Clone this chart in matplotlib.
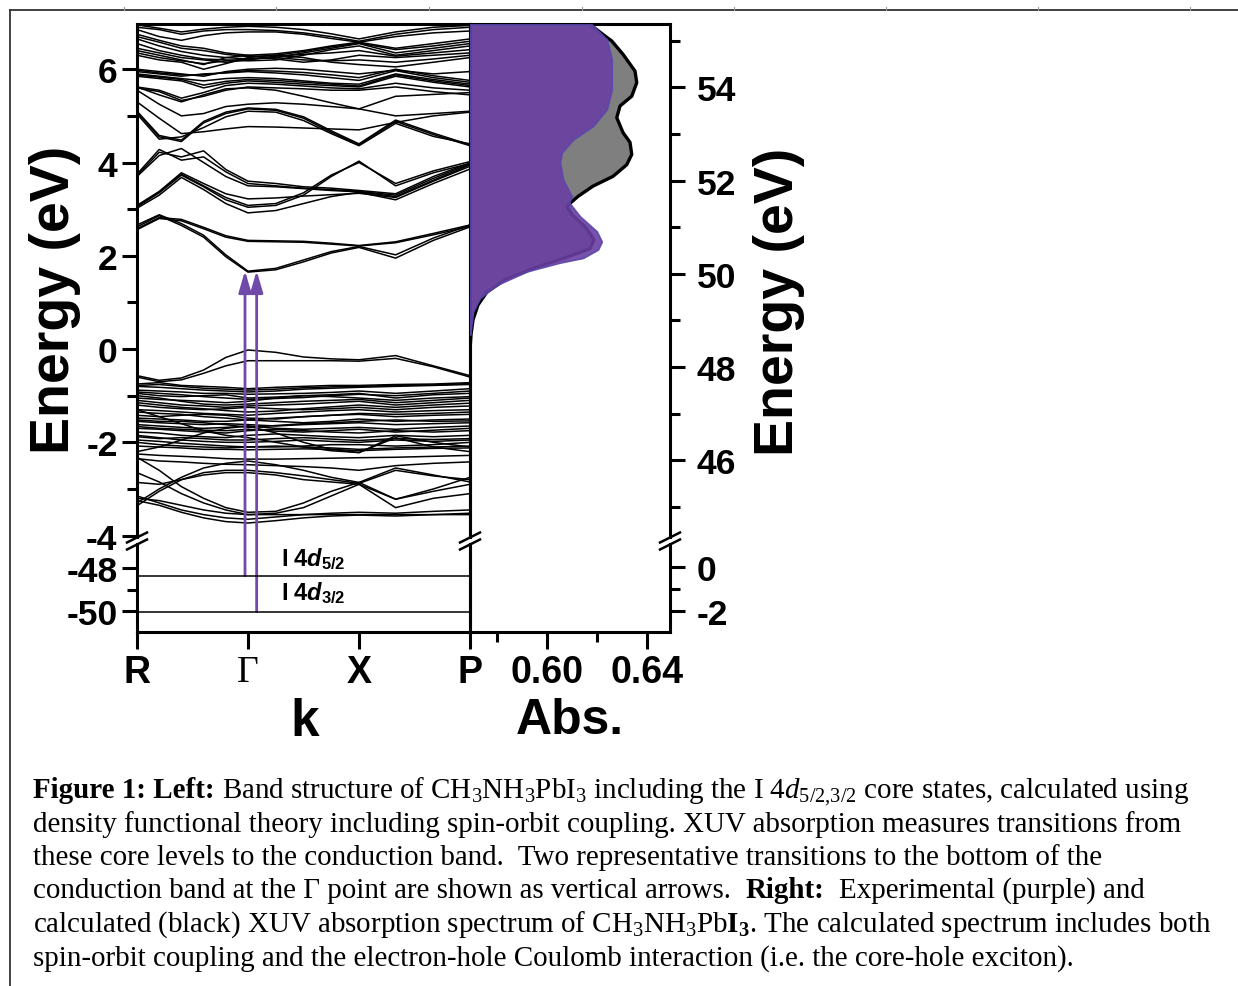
import matplotlib
matplotlib.use("Agg")
import matplotlib.pyplot as plt
from matplotlib.lines import Line2D

plt.rcParams['font.family'] = ['Liberation Sans', 'DejaVu Sans']
plt.rcParams['font.weight'] = 'bold'
plt.rcParams['axes.unicode_minus'] = False
plt.rcParams['mathtext.fontset'] = 'custom'
plt.rcParams['mathtext.rm'] = 'Liberation Serif:style=normal:weight=normal'
plt.rcParams['mathtext.it'] = 'Liberation Serif:style=italic:weight=normal'
plt.rcParams['mathtext.bf'] = 'Liberation Serif:style=normal:weight=bold'
plt.rcParams['mathtext.sf'] = 'Liberation Sans:style=normal:weight=bold'
plt.rcParams['mathtext.bfit'] = 'Liberation Sans:style=italic:weight=bold'
plt.rcParams['mathtext.default'] = 'rm'

# ---------------- band structure data ----------------
k_nodes = [0, 0.2, 0.4, 0.6, 0.8, 1.0, 1.25, 1.5, 1.75, 2.0, 2.33, 2.67, 3.0]
k_ticks = [0, 1, 2, 3]
k_labels = ['R', 'Γ', 'X', 'P']

conduction_bands = [
    [2.62, 2.86, 2.65, 2.40, 1.98, 1.65, 1.70, 1.87, 2.06, 2.18, 1.95, 2.33, 2.62],
    [2.66, 2.88, 2.69, 2.44, 2.02, 1.67, 1.73, 1.91, 2.09, 2.20, 2.02, 2.38, 2.66],
    [2.56, 2.80, 2.75, 2.58, 2.40, 2.31, 2.30, 2.29, 2.25, 2.21, 2.28, 2.45, 2.63],
    [2.58, 2.82, 2.78, 2.61, 2.43, 2.33, 2.32, 2.31, 2.27, 2.22, 2.30, 2.48, 2.66],
    [3.02, 3.30, 3.68, 3.42, 3.12, 2.92, 2.97, 3.12, 3.27, 3.36, 3.20, 3.55, 3.86],
    [3.05, 3.35, 3.73, 3.48, 3.20, 3.04, 3.08, 3.30, 3.70, 4.03, 3.50, 3.78, 3.98],
    [3.08, 3.38, 3.78, 3.55, 3.33, 3.22, 3.24, 3.28, 3.31, 3.34, 3.25, 3.60, 3.92],
    [3.06, 3.36, 3.75, 3.50, 3.25, 3.08, 3.12, 3.35, 3.73, 4.00, 3.55, 3.82, 4.02],
    [3.70, 4.15, 4.30, 4.00, 3.70, 3.50, 3.48, 3.44, 3.40, 3.37, 3.27, 3.62, 3.95],
    [3.75, 4.28, 4.05, 4.12, 3.80, 3.55, 3.50, 3.45, 3.42, 3.38, 3.30, 3.66, 3.97],
    [3.72, 4.22, 4.12, 4.25, 3.85, 3.60, 3.55, 3.48, 3.45, 3.40, 3.33, 3.70, 3.99],
    [5.08, 4.55, 4.45, 4.85, 5.05, 5.15, 5.12, 4.95, 4.65, 4.38, 4.88, 4.60, 4.36],
    [5.04, 4.50, 4.55, 4.75, 4.98, 5.10, 5.08, 4.90, 4.62, 4.36, 4.84, 4.56, 4.40],
    [5.10, 4.58, 4.48, 4.88, 5.08, 5.17, 5.14, 4.98, 4.68, 4.40, 4.91, 4.63, 4.38],
    [5.30, 4.95, 4.62, 4.66, 4.72, 4.77, 4.76, 4.74, 4.72, 4.70, 4.86, 5.00, 5.08],
    [5.55, 5.25, 5.00, 5.05, 5.20, 5.25, 5.28, 5.25, 5.20, 5.15, 5.42, 5.46, 5.50],
    [5.62, 5.45, 5.30, 5.45, 5.58, 5.60, 5.55, 5.42, 5.28, 5.15, 5.00, 5.05, 5.10],
    [6.95, 6.88, 6.80, 6.86, 6.90, 6.92, 6.90, 6.85, 6.76, 6.65, 6.80, 6.90, 6.94],
    [6.90, 6.85, 6.75, 6.82, 6.85, 6.85, 6.83, 6.78, 6.70, 6.60, 6.75, 6.85, 6.90],
    [6.85, 6.70, 6.62, 6.72, 6.78, 6.80, 6.80, 6.75, 6.66, 6.58, 6.70, 6.78, 6.82],
    [6.75, 6.62, 6.50, 6.45, 6.35, 6.30, 6.33, 6.40, 6.50, 6.58, 6.45, 6.55, 6.65],
    [6.70, 6.58, 6.45, 6.40, 6.32, 6.27, 6.30, 6.38, 6.48, 6.56, 6.42, 6.50, 6.60],
    [6.65, 6.50, 6.38, 6.30, 6.25, 6.22, 6.25, 6.35, 6.45, 6.55, 6.35, 6.45, 6.55],
    [6.55, 6.40, 6.30, 6.22, 6.20, 6.18, 6.20, 6.30, 6.42, 6.50, 6.30, 6.40, 6.50],
    [6.45, 6.35, 6.25, 6.20, 6.15, 6.20, 6.28, 6.32, 6.35, 6.40, 6.28, 6.35, 6.42],
    [6.40, 6.30, 6.20, 6.10, 6.25, 6.30, 6.22, 6.15, 6.20, 6.30, 6.25, 6.30, 6.35],
    [6.35, 6.25, 6.18, 6.12, 6.18, 6.22, 6.25, 6.20, 6.18, 6.20, 6.15, 6.22, 6.30],
    [6.30, 6.20, 6.15, 6.00, 6.12, 6.25, 6.30, 6.25, 6.15, 6.10, 6.05, 6.15, 6.25],
    [6.00, 5.95, 5.90, 5.85, 5.95, 6.00, 6.02, 6.00, 5.95, 5.90, 5.98, 5.90, 5.95],
    [5.98, 5.92, 5.88, 5.88, 5.93, 5.97, 5.96, 5.93, 5.88, 5.82, 6.00, 5.86, 5.76],
    [5.95, 5.90, 5.85, 5.90, 5.92, 5.95, 5.92, 5.88, 5.82, 5.76, 5.97, 5.82, 5.72],
    [5.90, 5.85, 5.80, 5.75, 5.80, 5.82, 5.80, 5.75, 5.70, 5.68, 5.90, 5.78, 5.68],
    [5.87, 5.83, 5.78, 5.66, 5.74, 5.78, 5.76, 5.72, 5.68, 5.64, 5.88, 5.75, 5.65],
    [5.85, 5.80, 5.75, 5.60, 5.70, 5.75, 5.72, 5.68, 5.65, 5.62, 5.85, 5.72, 5.62],
    [5.62, 5.55, 5.38, 5.50, 5.65, 5.70, 5.68, 5.64, 5.60, 5.58, 5.70, 5.60, 5.55],
    [5.60, 5.52, 5.33, 5.42, 5.55, 5.62, 5.60, 5.58, 5.55, 5.55, 5.62, 5.52, 5.45],
]

valence_bands = [
    [-0.57, -0.67, -0.62, -0.45, -0.18, -0.02, -0.07, -0.17, -0.21, -0.23, -0.14, -0.36, -0.57],
    [-0.60, -0.70, -0.66, -0.52, -0.36, -0.25, -0.25, -0.25, -0.25, -0.26, -0.20, -0.38, -0.60],
    [-0.75, -0.72, -0.78, -0.80, -0.82, -0.85, -0.82, -0.80, -0.78, -0.78, -0.76, -0.75, -0.72],
    [-0.78, -0.76, -0.80, -0.84, -0.86, -0.88, -0.86, -0.83, -0.81, -0.80, -0.78, -0.77, -0.74],
    [-0.80, -0.82, -0.85, -0.88, -0.90, -0.92, -0.90, -0.86, -0.84, -0.82, -0.80, -0.78, -0.76],
    [-0.88, -0.90, -0.92, -0.95, -0.95, -0.97, -0.96, -0.95, -0.93, -0.90, -0.95, -0.90, -0.85],
    [-0.92, -0.95, -0.98, -1.02, -1.05, -1.08, -1.06, -1.04, -1.00, -0.97, -1.00, -0.95, -0.90],
    [-0.95, -1.00, -1.02, -1.00, -0.98, -1.05, -1.03, -1.00, -0.98, -0.95, -1.05, -0.98, -0.95],
    [-1.00, -1.05, -1.12, -1.18, -1.20, -1.18, -1.15, -1.12, -1.10, -1.08, -1.15, -1.10, -1.05],
    [-1.05, -1.08, -1.10, -1.12, -1.15, -1.12, -1.05, -1.00, -1.02, -1.05, -1.10, -1.05, -1.02],
    [-1.10, -1.15, -1.20, -1.22, -1.25, -1.22, -1.20, -1.18, -1.15, -1.12, -1.20, -1.15, -1.10],
    [-1.15, -1.20, -1.25, -1.28, -1.32, -1.35, -1.33, -1.28, -1.24, -1.20, -1.25, -1.20, -1.16],
    [-1.20, -1.25, -1.28, -1.30, -1.28, -1.25, -1.28, -1.30, -1.28, -1.25, -1.30, -1.25, -1.22],
    [-1.30, -1.32, -1.35, -1.38, -1.40, -1.42, -1.38, -1.35, -1.32, -1.30, -1.35, -1.32, -1.30],
    [-1.35, -1.38, -1.40, -1.45, -1.48, -1.52, -1.48, -1.45, -1.42, -1.38, -1.40, -1.38, -1.35],
    [-1.42, -1.45, -1.42, -1.40, -1.42, -1.48, -1.50, -1.45, -1.42, -1.40, -1.45, -1.42, -1.40],
    [-1.48, -1.50, -1.52, -1.55, -1.55, -1.52, -1.55, -1.58, -1.55, -1.50, -1.55, -1.52, -1.50],
    [-1.52, -1.55, -1.55, -1.58, -1.62, -1.68, -1.64, -1.60, -1.58, -1.55, -1.52, -1.55, -1.54],
    [-1.55, -1.58, -1.60, -1.62, -1.60, -1.62, -1.65, -1.62, -1.60, -1.58, -1.62, -1.60, -1.58],
    [-1.62, -1.65, -1.68, -1.70, -1.68, -1.65, -1.70, -1.72, -1.70, -1.68, -1.72, -1.68, -1.65],
    [-1.66, -1.70, -1.72, -1.74, -1.75, -1.72, -1.76, -1.78, -1.75, -1.72, -1.78, -1.74, -1.70],
    [-1.70, -1.72, -1.75, -1.78, -1.80, -1.75, -1.72, -1.75, -1.78, -1.80, -1.75, -1.78, -1.75],
    [-1.78, -1.80, -1.85, -1.88, -1.90, -1.85, -1.82, -1.85, -1.88, -1.90, -1.85, -1.88, -1.85],
    [-1.85, -1.90, -1.95, -1.98, -2.00, -2.00, -1.98, -1.95, -1.98, -2.00, -1.95, -1.98, -1.95],
    [-1.88, -1.92, -1.90, -1.92, -1.95, -1.95, -1.92, -1.90, -1.93, -1.96, -1.92, -1.94, -1.92],
    [-1.95, -1.98, -2.02, -2.05, -2.08, -2.10, -2.10, -2.08, -2.05, -2.05, -2.08, -2.05, -2.00],
    [-2.00, -2.05, -2.08, -2.10, -2.12, -2.10, -2.08, -2.10, -2.12, -2.15, -2.12, -2.10, -2.08],
    [-2.08, -2.10, -2.12, -2.15, -2.15, -2.16, -2.15, -2.14, -2.15, -2.18, -2.15, -2.13, -2.12],
    [-1.30, -1.45, -1.60, -1.75, -1.85, -1.90, -2.00, -2.10, -2.18, -2.22, -1.86, -2.00, -2.10],
    [-2.20, -2.10, -1.95, -1.80, -1.70, -1.65, -1.80, -2.00, -2.15, -2.22, -1.90, -2.10, -2.20],
    [-2.25, -2.28, -2.30, -2.32, -2.35, -2.36, -2.36, -2.35, -2.34, -2.33, -2.32, -2.30, -2.28],
    [-2.35, -2.40, -2.42, -2.45, -2.47, -2.48, -2.50, -2.52, -2.55, -2.60, -2.50, -2.45, -2.42],
    [-2.32, -2.60, -2.95, -3.20, -3.40, -3.50, -3.48, -3.30, -3.05, -2.86, -2.55, -2.70, -2.85],
    [-2.65, -2.85, -3.10, -3.30, -3.45, -3.55, -3.52, -3.40, -3.15, -2.90, -3.22, -3.00, -2.75],
    [-3.30, -3.00, -2.75, -2.55, -2.45, -2.40, -2.48, -2.60, -2.75, -2.86, -3.22, -3.05, -2.90],
    [-3.36, -3.05, -2.80, -2.65, -2.60, -2.60, -2.65, -2.72, -2.80, -2.88, -2.60, -2.72, -2.80],
    [-2.86, -2.90, -2.80, -2.70, -2.65, -2.65, -2.70, -2.80, -2.85, -2.90, -3.40, -3.20, -3.10],
    [-3.15, -3.30, -3.45, -3.55, -3.62, -3.65, -3.60, -3.55, -3.52, -3.50, -3.52, -3.48, -3.45],
    [-3.25, -3.35, -3.50, -3.62, -3.70, -3.73, -3.68, -3.62, -3.58, -3.56, -3.58, -3.55, -3.52],
    [-3.20, -3.25, -3.35, -3.45, -3.52, -3.55, -3.55, -3.55, -3.55, -3.55, -3.55, -3.55, -3.55],
]

core_levels = [-48.36, -50.03]
core_labels = ['5/2', '3/2']
arrow_k = [0.973, 1.078]
cb_minimum = 1.68

# ---------------- XUV absorption data ----------------
calc_energy = [55.35, 55.07, 54.996, 54.71, 54.35, 54.10, 53.81, 53.60, 53.35, 53.03,
               52.82, 52.56, 52.34, 52.09, 51.88, 51.66, 51.53, 51.44, 51.27, 50.99,
               50.73, 50.54, 50.34, 50.13, 49.87, 49.61, 49.33, 49.01, 48.69, 48.37]
calc_abs = [0.6173, 0.6241, 0.6260, 0.6305, 0.6353, 0.6360, 0.6340, 0.6293, 0.6280, 0.6305,
            0.6333, 0.6340, 0.6320, 0.6265, 0.6185, 0.6125, 0.6097, 0.6081, 0.6101, 0.6157,
            0.6189, 0.6173, 0.6073, 0.5953, 0.5833, 0.5761, 0.5725, 0.5705, 0.5697, 0.5693]

exp_energy = [55.35, 55.03, 54.60, 53.96, 53.53, 53.17, 52.88, 52.60, 52.39, 52.02,
              51.66, 51.53, 51.23, 50.91, 50.69, 50.52, 50.34, 50.24, 50.05, 49.76,
              49.48, 49.19, 48.97, 48.69]
exp_abs = [0.6180, 0.6240, 0.6260, 0.6260, 0.6240, 0.6185, 0.6105, 0.6060, 0.6053, 0.6065,
           0.6100, 0.6089, 0.6133, 0.6200, 0.6220, 0.6205, 0.6145, 0.6053, 0.5920, 0.5800,
           0.5733, 0.5705, 0.5700, 0.5693]

abs_ticks = [0.60, 0.64]
abs_tick_labels = ['0.60', '0.64']

caption_lines = [
    [("Figure 1: Left:", 'bold', 0),
     (r"Band structure of CH$_3$NH$_3$PbI$_3$ including the I 4$\mathit{d}_{5/2{,}3/2}$ core states, calculated using", 'normal', 1)],
    [("density functional theory including spin-orbit coupling. XUV absorption measures transitions from", 'normal', 0)],
    [("these core levels to the conduction band.  Two representative transitions to the bottom of the", 'normal', 0)],
    [("conduction band at the Γ point are shown as vertical arrows.", 'normal', 0),
     ("Right:", 'bold', 2), ("Experimental (purple) and", 'normal', 2)],
    [(r"calculated (black) XUV absorption spectrum of CH$_3$NH$_3$Pb$\mathbf{I}_{\mathbf{3}}$. The calculated spectrum includes both", 'normal', 0)],
    [("spin-orbit coupling and the electron-hole Coulomb interaction (i.e. the core-hole exciton).", 'normal', 0)],
]

# ---------------- layout ----------------
W, H = 1238, 987
fig = plt.figure(figsize=(W / 100, H / 100), dpi=100)
fig.patch.set_facecolor('white')


def box(x0, y0, x1, y1):
    return [x0 / W, 1 - y1 / H, (x1 - x0) / W, (y1 - y0) / H]


def fx(x):
    return x / W


def fy(y):
    return 1 - y / H


PURPLE = '#6f4aa8'
SPINE_W = 2.2
YTICK_FS = 25.5

ax_bu = fig.add_axes(box(137, 25, 470, 538))
ax_bl = fig.add_axes(box(137, 545, 470, 633))
ax_su = fig.add_axes(box(470, 25, 670, 538))
ax_sl = fig.add_axes(box(470, 545, 670, 633))

for ax in (ax_bu, ax_bl, ax_su, ax_sl):
    ax.set_facecolor('none')
    for s in ax.spines.values():
        s.set_linewidth(SPINE_W)
for ax in (ax_bu, ax_su):
    ax.spines['bottom'].set_visible(False)
for ax in (ax_bl, ax_sl):
    ax.spines['top'].set_visible(False)

# band lines
for band in conduction_bands + valence_bands:
    ax_bu.plot(k_nodes, band, color='black', lw=1.1, solid_joinstyle='round')
ax_bu.set_xlim(0, 3)
ax_bu.set_ylim(-4.03, 6.97)
ax_bu.set_xticks([])
ax_bu.set_yticks([-4, -2, 0, 2, 4, 6])
ax_bu.set_yticks([-3, -1, 1, 3, 5], minor=True)

for e in core_levels:
    ax_bl.plot([0, 3], [e, e], color='black', lw=1.1)
ax_bl.set_xlim(0, 3)
ax_bl.set_ylim(-50.98, -46.88)
ax_bl.set_yticks([-50, -48])
ax_bl.set_yticks([-49], minor=True)
ax_bl.set_xticks(k_ticks)
ax_bl.set_xticklabels(k_labels)
gl = ax_bl.get_xticklabels()[1]
gl.set_fontfamily('Liberation Serif')
gl.set_fontweight('normal')

for ax in (ax_bu, ax_bl):
    ax.tick_params(axis='y', which='major', direction='out', length=11, width=SPINE_W,
                   labelsize=YTICK_FS, pad=3)
    ax.tick_params(axis='y', which='minor', direction='out', length=7, width=SPINE_W)
ax_bl.tick_params(axis='x', which='major', direction='out', length=12, width=SPINE_W,
                  labelsize=27, pad=4)

# absorption spectrum
x_left = 0.5693
ax_su.fill_betweenx(calc_energy, x_left, calc_abs, color='#7f7f80', lw=0, zorder=1)
ax_su.plot(calc_abs, calc_energy, color='black', lw=2.4, zorder=2)
ax_su.fill_betweenx(exp_energy, x_left, exp_abs, facecolor='#6a40a2', alpha=0.9,
                    edgecolor='#5b46ad', lw=1.3, zorder=3)
ax_su.set_xlim(x_left, 0.6493)
ax_su.set_ylim(44.35, 55.36)
ax_su.set_xticks([])
ax_su.yaxis.tick_right()
ax_su.set_yticks([46, 48, 50, 52, 54])
ax_su.set_yticks([45, 47, 49, 51, 53, 55], minor=True)

ax_sl.set_xlim(x_left, 0.6493)
ax_sl.set_ylim(-2.955, 1.045)
ax_sl.yaxis.tick_right()
ax_sl.set_yticks([-2, 0])
ax_sl.set_yticks([-1], minor=True)
ax_sl.set_xticks(abs_ticks)
ax_sl.set_xticklabels(abs_tick_labels)
ax_sl.set_xticks([0.58, 0.62], minor=True)

for ax in (ax_su, ax_sl):
    ax.tick_params(axis='y', which='major', direction='out', length=11, width=SPINE_W,
                   labelsize=YTICK_FS, pad=8)
    ax.tick_params(axis='y', which='minor', direction='out', length=7, width=SPINE_W)
ax_sl.tick_params(axis='x', which='major', direction='out', length=12, width=SPINE_W,
                  labelsize=27, pad=4)
ax_sl.tick_params(axis='x', which='minor', direction='out', length=7, width=SPINE_W)

# transition arrows from the core levels to the conduction band minimum
for kx, e0 in zip(arrow_k, core_levels):
    ann = ax_bu.annotate('', xy=(kx, cb_minimum), xycoords='data',
                         xytext=(kx, e0), textcoords=ax_bl.transData,
                         arrowprops=dict(arrowstyle='-|>,head_length=1.3,head_width=0.38',
                                         color=PURPLE, lw=2.0, shrinkA=0, shrinkB=0,
                                         mutation_scale=10),
                         annotation_clip=False, zorder=5)
    ann.arrow_patch.set_clip_on(False)

# core level labels
for lab, yb in zip(core_labels, [567, 601]):
    fig.text(fx(281), fy(yb), r'$\mathsf{I\ 4}\mathbfit{d}_{\mathsf{%s}}$' % lab,
             fontsize=17, ha='left', va='baseline')

# axis break marks
for xc in (137, 470, 670):
    for yc in (538.5, 545.5):
        fig.add_artist(Line2D([fx(xc - 10), fx(xc + 10)], [fy(yc + 5), fy(yc - 5)],
                              color='black', lw=1.8, transform=fig.transFigure))

# axis titles
fig.text(fx(55), fy(300), 'Energy (eV)', rotation=90, fontsize=40, fontweight='bold',
         ha='center', va='center')
fig.text(fx(779), fy(302), 'Energy (eV)', rotation=90, fontsize=40, fontweight='bold',
         ha='center', va='center')
fig.text(fx(305), fy(736), 'k', fontsize=37, fontweight='bold', ha='center', va='baseline')
fig.text(fx(570), fy(734), 'Abs.', fontsize=36, fontweight='bold', ha='center', va='baseline')

# page frame
fig.add_artist(Line2D([fx(10), fx(1238)], [fy(11), fy(11)], color='#333333', lw=1.3,
                      transform=fig.transFigure))
fig.add_artist(Line2D([fx(10), fx(10)], [fy(11), fy(987)], color='#333333', lw=1.3,
                      transform=fig.transFigure))
for xm in (124, 276, 429, 582, 734, 886, 1038, 1190):
    fig.add_artist(Line2D([fx(xm), fx(xm)], [fy(8), fy(11)], color='#999999', lw=0.8,
                          transform=fig.transFigure))

# caption
CAP_FS = 20.9
renderer = fig.canvas.get_renderer()
space_px = CAP_FS * 100 / 72 * 0.25
baselines = [798, 832, 865, 898, 932, 966]
for parts, yb in zip(caption_lines, baselines):
    x = 33
    for txt, weight, gap in parts:
        x += gap * space_px
        t = fig.text(fx(x), fy(yb), txt, fontsize=CAP_FS, family='Liberation Serif',
                     fontweight=weight, ha='left', va='baseline')
        x = t.get_window_extent(renderer).x1

fig.savefig('out.png', dpi=100, facecolor='white')
